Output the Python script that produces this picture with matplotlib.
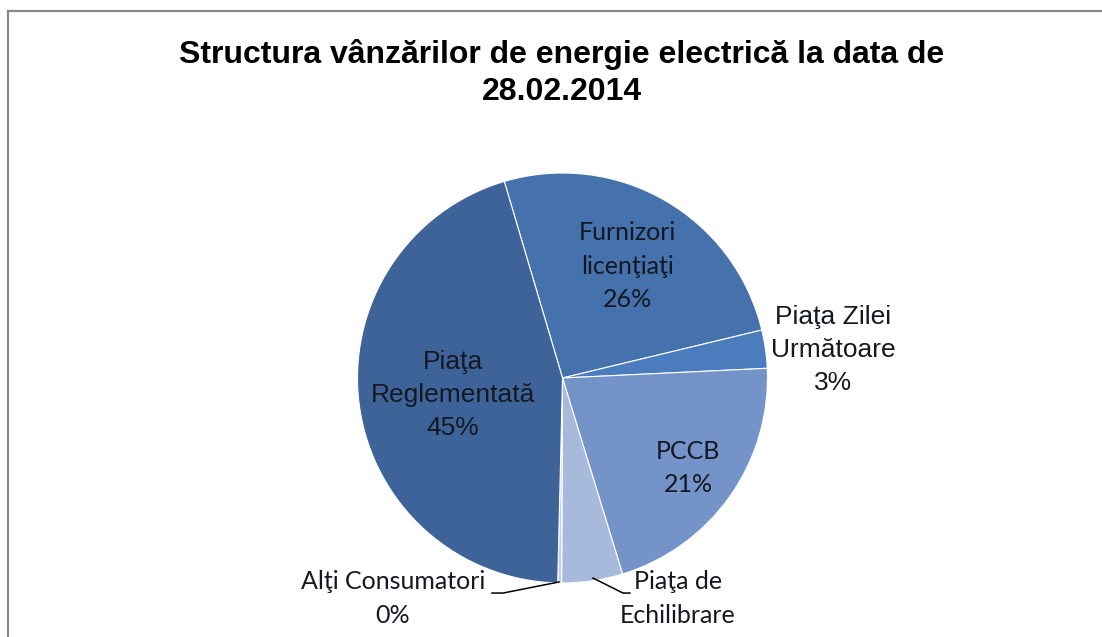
import matplotlib
matplotlib.use("Agg")
import matplotlib.pyplot as plt
from matplotlib.lines import Line2D

title = "Structura vânzărilor de energie electrică la data de\n28.02.2014"
names = ["Furnizori\nlicenţiaţi", "Piaţa Zilei\nUrmătoare", "PCCB",
         "Piaţa de\nEchilibrare", "Alţi Consumatori", "Piaţa\nReglementată"]
values = [25.8, 3.0, 21.0, 4.8, 0.3, 45.0]
# the Echilibrare percentage falls below the picture's bottom edge in the original
show_pct = [True, True, True, False, True, True]
colors = ["#4571ad", "#4a7cbe", "#7494c9", "#a7badb", "#c3cfe6", "#3d6399"]

fig = plt.figure(figsize=(11.02, 6.37), dpi=100)
fig.patch.set_facecolor("white")

# chart frame (left and top edges only visible)
fig.add_artist(Line2D([8/1102, 8/1102], [0, 1 - 11/637], transform=fig.transFigure,
                      color="#8a8a8a", lw=1.6))
fig.add_artist(Line2D([8/1102, 1], [1 - 11/637, 1 - 11/637], transform=fig.transFigure,
                      color="#8a8a8a", lw=1.6))

fig.text(0.510, 1 - 73/637, title, ha="center", va="center", fontsize=23,
         fontweight="bold", family=["Liberation Sans", "DejaVu Sans"], linespacing=1.28)

cx, cy, r = 562.5, 378, 205
ax = fig.add_axes([(cx - r)/1102, 1 - (cy + r)/637, 2*r/1102, 2*r/637])
ax.pie(values, colors=colors, startangle=106.5, counterclock=False,
       wedgeprops=dict(edgecolor="white", linewidth=0.8))
ax.set_xlim(-1, 1)
ax.set_ylim(-1, 1)
ax.set_aspect("equal")
ax.axis("off")

pct = [f"{round(v)}%" for v in values]
calibri = ["Lato", "DejaVu Sans"]
arial = ["Liberation Sans", "DejaVu Sans"]

# (x, y, fonts, size, linespacing) per label
label_style = [
    (0.315, 0.546, calibri, 18, 1.57),
    (1.320, 0.137, arial, 19, 1.46),
    (0.612, -0.439, calibri, 18, 1.57),
    (0.563, -1.075, calibri, 18, 1.57),
    (-0.827, -1.075, calibri, 18, 1.57),
    (-0.534, -0.083, arial, 19, 1.46),
]
for name, p, show, (x, y, fam, fs, ls) in zip(names, pct, show_pct, label_style):
    txt = f"{name}\n{p}" if show else name
    ax.text(x, y, txt, ha="center", va="center", fontsize=fs,
            family=fam, linespacing=ls, color="#141820", clip_on=False)

# leader lines for small slices
ax.plot([-0.017, -0.29, -0.344], [-0.995, -1.049, -1.049], color="black", lw=1.1, clip_on=False)
ax.plot([0.149, 0.295, 0.329], [-0.976, -1.049, -1.049], color="black", lw=1.1, clip_on=False)

fig.savefig("out.png", dpi=100, facecolor="white")
